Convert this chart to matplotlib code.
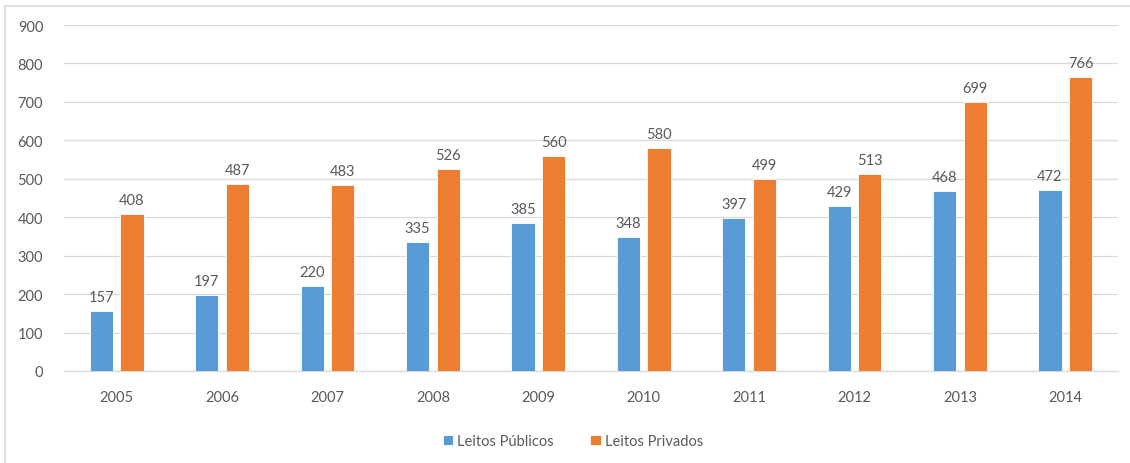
import matplotlib
matplotlib.use("Agg")
import matplotlib.pyplot as plt
import numpy as np
from matplotlib.patches import Rectangle

years = ["2005", "2006", "2007", "2008", "2009", "2010", "2011", "2012", "2013", "2014"]
publicos = [157, 197, 220, 335, 385, 348, 397, 429, 468, 472]
privados = [408, 487, 483, 526, 560, 580, 499, 513, 699, 766]
series_names = ["Leitos Públicos", "Leitos Privados"]

plt.rcParams['font.family'] = ['Lato', 'DejaVu Sans']
text_color = "#595959"

fig = plt.figure(figsize=(11.3, 4.64), dpi=100)
ax = fig.add_axes([64/1130, 1-372/464, (1118-64)/1130, (372-26)/464])

x = np.arange(len(years))
w = 0.22
off = 0.145
b1 = ax.bar(x - off, publicos, w, color="#5B9BD5", edgecolor="white", linewidth=0.6, label=series_names[0], zorder=3)
b2 = ax.bar(x + off, privados, w, color="#ED7D31", edgecolor="white", linewidth=0.6, label=series_names[1], zorder=3)

for bars, vals in ((b1, publicos), (b2, privados)):
    for r, v in zip(bars, vals):
        ax.annotate(str(v), (r.get_x() + r.get_width()/2, v), xytext=(0, 5), textcoords="offset points",
                    ha="center", va="bottom", fontsize=10.5, color=text_color)

ax.set_xlim(-0.5, len(years) - 0.5)
ax.set_ylim(0, 900)
ax.set_yticks(range(0, 901, 100))
ax.set_xticks(x)
ax.set_xticklabels(years)
ax.tick_params(axis="both", length=0, labelsize=10.5, labelcolor=text_color)
ax.tick_params(axis="y", pad=15)
ax.tick_params(axis="x", pad=14)
ax.grid(axis="y", color="#D9D9D9", linewidth=0.9, zorder=0)
for s in ["top", "right", "left"]:
    ax.spines[s].set_visible(False)
ax.spines["bottom"].set_color("#D9D9D9")
ax.spines["bottom"].set_linewidth(0.9)

fig.legend(handles=[b1, b2], labels=series_names, loc="center", bbox_to_anchor=(573/1130, 1-442/464),
           ncol=2, frameon=False, fontsize=10.5, labelcolor=text_color, handlelength=0.7, handleheight=0.7,
           handletextpad=0.3, columnspacing=2.5)

fig.patches.append(Rectangle((5/1130, -0.1), 1.2, 1-7/464+0.1, transform=fig.transFigure,
                             fill=False, edgecolor="#D9D9D9", linewidth=1.2))

fig.savefig("out.png", dpi=100)
